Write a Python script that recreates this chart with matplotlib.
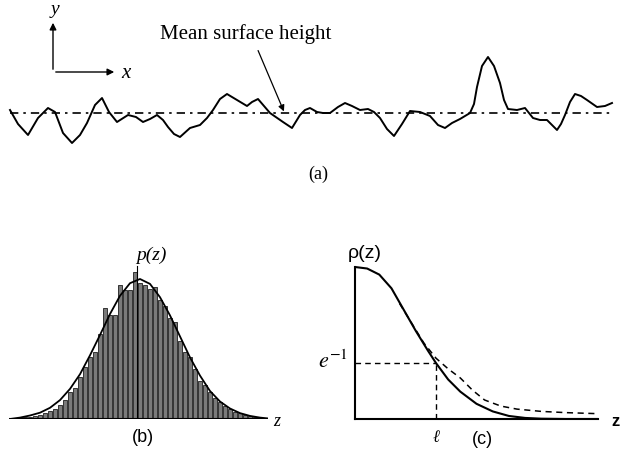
import numpy as np
import matplotlib
matplotlib.use('Agg')
import matplotlib.pyplot as plt

plt.rcParams['mathtext.fontset'] = 'stix'

W, H = 620, 453

# (a) surface profile (x in px, height above the mean in px)
prof_x = [10, 18, 28, 38, 48, 55, 63, 72, 80, 87, 95, 102, 109, 117, 128, 136, 143, 150,
          157, 163, 168, 174, 180, 190, 200, 207, 213, 220, 227, 237, 247, 252, 258, 264,
          270, 283, 292, 300, 305, 310, 317, 323, 330, 338, 345, 352, 360, 368, 374, 380,
          387, 394, 402, 410, 420, 430, 438, 445, 452, 460, 470, 474, 477, 482, 488, 494,
          500, 504, 508, 517, 525, 533, 540, 547, 552, 557, 561, 565, 570, 575, 581, 587,
          597, 605, 612]
prof_y = [110, 124, 135, 118, 108, 112, 133, 143, 135, 123, 105, 98, 112, 122, 115, 117, 122, 119,
          115, 120, 127, 134, 137, 128, 125, 118, 110, 99, 94, 100, 106, 102, 99, 106,
          113, 122, 128, 115, 110, 108, 112, 113, 113, 107, 103, 106, 110, 109, 112, 118,
          129, 136, 124, 111, 112, 116, 125, 128, 123, 119, 113, 104, 87, 66, 57, 66,
          83, 100, 109, 110, 108, 118, 120, 120, 125, 130, 124, 115, 102, 94, 96, 100,
          107, 106, 103]
mean_y = 113

# (b) histogram of heights (z in units of sigma, p relative to peak)
bar_heights = [0.005, 0.01, 0.012, 0.015, 0.02, 0.03, 0.045, 0.06, 0.075, 0.10, 0.135,
               0.19, 0.22, 0.30, 0.37, 0.44, 0.48, 0.61, 0.79, 0.74, 0.74, 0.96, 0.92,
               0.92, 1.05, 0.97, 0.96, 0.93, 0.94, 0.85, 0.81, 0.72, 0.69, 0.56, 0.48,
               0.44, 0.36, 0.27, 0.24, 0.19, 0.15, 0.12, 0.09, 0.075, 0.05, 0.04, 0.03,
               0.025, 0.015, 0.01, 0.005]
bin_w = 0.125
gauss_z = [-3.25, -3.0, -2.75, -2.5, -2.25, -2.0, -1.75, -1.5, -1.25, -1.0, -0.75, -0.5,
           -0.25, 0.0, 0.25, 0.5, 0.75, 1.0, 1.25, 1.5, 1.75, 2.0, 2.25, 2.5, 2.75, 3.0, 3.2]
gauss_p = [0.0, 0.01, 0.025, 0.045, 0.08, 0.135, 0.215, 0.32, 0.455, 0.60, 0.75, 0.88,
           0.97, 1.0, 0.965, 0.87, 0.74, 0.59, 0.44, 0.31, 0.20, 0.125, 0.075, 0.042,
           0.022, 0.01, 0.004]

# (c) correlation function (lag in units of l)
rho_t = [0, 0.15, 0.3, 0.45, 0.6, 0.75, 0.9, 1.0, 1.15, 1.3, 1.5, 1.7, 1.9, 2.1, 2.3, 2.6, 3.0]
rho_solid = [1.0, 0.99, 0.95, 0.86, 0.72, 0.58, 0.45, 0.368, 0.26, 0.18, 0.10, 0.05, 0.02,
             0.007, 0.002, 0.0, 0.0]
dash_t = [0.55, 0.7, 0.85, 1.0, 1.15, 1.3, 1.45, 1.6, 1.8, 2.0, 2.3, 2.6, 3.0]
rho_dash = [0.76, 0.63, 0.50, 0.40, 0.33, 0.27, 0.19, 0.125, 0.085, 0.065, 0.05, 0.042, 0.035]
inv_e = 0.368


def fx(x):
    return x / W


def fy(y):
    return 1 - y / H


fig = plt.figure(figsize=(6.2, 4.53), dpi=100)
serif = 'Liberation Serif'
sans = 'Liberation Sans'

# ---- panel (a)
ax_a = fig.add_axes([0, 1 - 200 / H, 1, 200 / H])
ax_a.set_xlim(0, W)
ax_a.set_ylim(mean_y - 200, mean_y)
ax_a.axis('off')
ax_a.plot(prof_x, [mean_y - v for v in prof_y], color='k', lw=1.4, solid_joinstyle='round')
ax_a.plot([10, 612], [0, 0], color='k', lw=1.2, ls=(0, (5, 3, 1.5, 3)))

arr = dict(arrowstyle='-|>', color='k', lw=1.0, mutation_scale=10)
fig.add_artist(matplotlib.patches.FancyArrowPatch((fx(53), fy(72)), (fx(53), fy(20)),
               transform=fig.transFigure, **arr))
fig.add_artist(matplotlib.patches.FancyArrowPatch((fx(53), fy(72)), (fx(117), fy(72)),
               transform=fig.transFigure, **arr))
fig.text(fx(55), fy(10), 'y', family=serif, style='italic', fontsize=14, ha='center', va='center')
fig.text(fx(126), fy(74), 'x', family=serif, style='italic', fontsize=15, ha='center', va='center')
fig.text(fx(160), fy(34), 'Mean surface height', family=serif, fontsize=15, ha='left', va='center')
fig.add_artist(matplotlib.patches.FancyArrowPatch((fx(257), fy(48)), (fx(285), fy(114)),
               transform=fig.transFigure, arrowstyle='-|>', color='k', lw=0.9,
               mutation_scale=9))
fig.text(fx(318), fy(174), '(a)', family=serif, fontsize=13, ha='center', va='center')

# ---- panel (b)
ax_b = fig.add_axes([fx(9), 1 - 419 / H, (268 - 9) / W, 159 / H])
ax_b.set_xlim(-131 / 40, 128 / 40)
ax_b.set_ylim(0, 159 / 140)
ax_b.axis('off')
centers = (np.arange(len(bar_heights)) - len(bar_heights) // 2) * bin_w
ax_b.bar(centers, bar_heights, width=bin_w * 0.72, color='#7a7a7a', edgecolor='#1e1e1e',
         linewidth=0.6)
ax_b.plot([-0.08, -0.08], [0, 1.09], color='k', lw=0.8)
ax_b.plot(gauss_z, gauss_p, color='k', lw=1.3)
ax_b.axhline(0, color='k', lw=1.5)
fig.text(fx(151), fy(255), 'p(z)', family=serif, style='italic', fontsize=14,
         ha='center', va='center')
fig.text(fx(277), fy(421), 'z', family=serif, style='italic', fontsize=13,
         ha='center', va='center')
fig.text(fx(143), fy(438), '(b)', family=sans, fontsize=13, ha='center', va='center')

# ---- panel (c)
ax_c = fig.add_axes([fx(355), 1 - 419 / H, 243 / W, 159 / H])
ax_c.set_xlim(0, 3.0)
ax_c.set_ylim(0, 159 / 152)
for s in ['top', 'right']:
    ax_c.spines[s].set_visible(False)
for s in ['left', 'bottom']:
    ax_c.spines[s].set_linewidth(1.5)
ax_c.spines['left'].set_bounds(0, 1.0)
ax_c.set_xticks([])
ax_c.set_yticks([])
ax_c.patch.set_alpha(0)
ax_c.plot(rho_t, rho_solid, color='k', lw=1.5)
ax_c.plot(dash_t, rho_dash, color='k', lw=1.1, ls=(0, (4, 3)))
ax_c.plot([0, 1.0], [inv_e, inv_e], color='k', lw=1.0, ls=(0, (4, 3)))
ax_c.plot([1.0, 1.0], [0, inv_e], color='k', lw=1.0, ls=(0, (4, 3)))
fig.text(fx(365), fy(253), 'ρ(z)', family=sans, fontsize=14, ha='center', va='center')
fig.text(fx(333), fy(361), r'$e^{-1}$', fontsize=16, ha='center', va='center')
fig.text(fx(436), fy(438), 'ℓ', family=serif, style='italic', fontsize=12,
         ha='center', va='center')
fig.text(fx(482), fy(440), '(c)', family=sans, fontsize=13, ha='center', va='center')
fig.text(fx(616), fy(422), 'z', family=sans, weight='bold', fontsize=12,
         ha='center', va='center')

fig.savefig('out.png', dpi=100)
